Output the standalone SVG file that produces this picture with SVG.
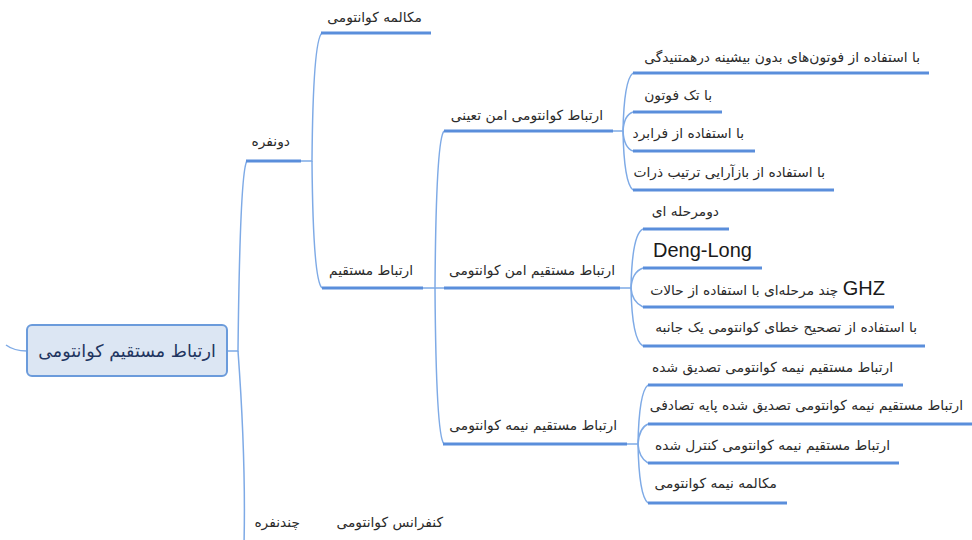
<svg xmlns="http://www.w3.org/2000/svg" width="972" height="540" viewBox="0 0 972 540">
<style>
.bg{fill:#ffffff}
.c{fill:none;stroke:#7eaae6;stroke-width:1.5}
.u{fill:none;stroke:#5a8edb;stroke-width:3}
.t{font-family:"DejaVu Sans",sans-serif;font-size:13.8px;fill:#2b2b2b;direction:rtl;text-anchor:start}
.lat{font-family:"Liberation Sans",Arial,sans-serif;font-size:20px;fill:#1a1a1a}
.root-box{fill:#dce6f3;stroke:#6b9bdb;stroke-width:2}
.root-t{font-family:"DejaVu Sans",sans-serif;font-size:17.5px;fill:#1f3560;direction:rtl;text-anchor:middle}
</style>
<rect class="bg" x="0" y="0" width="972" height="540"/>
<g id="connectors">
<path class="c" d="M6,345 Q14,351 27,351"/>
<path class="c" d="M227,351 H238 Q240,170 247,161"/>
<path class="c" d="M238,351 Q246,460 244,545"/>
<path class="c" d="M301,161 H312 Q313,40 322,33"/>
<path class="c" d="M312,161 Q313,280 322,288"/>
<path class="c" d="M423,288 H435 Q436,140 444,131"/>
<path class="c" d="M435,288 H444"/>
<path class="c" d="M435,288 Q436,436 444,444"/>
<path class="c" d="M613,131 H623 Q624,80 633,73"/>
<path class="c" d="M623,131 Q624,115 633,112"/>
<path class="c" d="M623,131 Q624,148 633,151"/>
<path class="c" d="M623,131 Q624,183 633,190"/>
<path class="c" d="M620,288 H631 Q632,234 643,229"/>
<path class="c" d="M631,288 Q632,272 643,268"/>
<path class="c" d="M631,288 Q632,302 643,307"/>
<path class="c" d="M631,288 Q632,340 643,346"/>
<path class="c" d="M627,444 H638 Q639,392 648,385"/>
<path class="c" d="M638,444 Q639,428 648,424"/>
<path class="c" d="M638,444 Q639,458 648,463"/>
<path class="c" d="M638,444 Q639,496 648,503"/>
</g>
<g id="root">
<rect class="root-box" x="27" y="325" width="200" height="51" rx="5"/>
<text class="root-t" x="127" y="357">ارتباط مستقیم کوانتومی</text>
</g>
<g id="n-donafare">
<path class="u" d="M246,161 H301"/>
<text class="t" x="290" y="146">دونفره</text>
</g>
<g id="n-chandnafare">
<text class="t" x="300" y="527">چندنفره</text>
</g>
<g id="n-conference">
<text class="t" x="443" y="527">کنفرانس کوانتومی</text>
</g>
<g id="n-mokaleme">
<path class="u" d="M321,33 H431"/>
<text class="t" x="422" y="22">مکالمه کوانتومی</text>
</g>
<g id="n-ertebat">
<path class="u" d="M322,288 H423"/>
<text class="t" x="413" y="275">ارتباط مستقیم</text>
</g>
<g id="n-amn-tayini">
<path class="u" d="M444,131 H613"/>
<text class="t" x="603" y="120">ارتباط کوانتومی امن تعینی</text>
</g>
<g id="n-amn">
<path class="u" d="M444,288 H620"/>
<text class="t" x="615" y="275">ارتباط مستقیم امن کوانتومی</text>
</g>
<g id="n-nime">
<path class="u" d="M443,444 H627"/>
<text class="t" x="617" y="430">ارتباط مستقیم نیمه کوانتومی</text>
</g>
<g id="n-a1">
<path class="u" d="M633,73 H929"/>
<text class="t" x="920" y="62">با استفاده از فوتون‌های بدون بیشینه درهمتنیدگی</text>
</g>
<g id="n-a2">
<path class="u" d="M633,112 H722"/>
<text class="t" x="712" y="100">با تک فوتون</text>
</g>
<g id="n-a3">
<path class="u" d="M633,151 H755"/>
<text class="t" x="744" y="138">با استفاده از فرابرد</text>
</g>
<g id="n-a4">
<path class="u" d="M633,190 H834"/>
<text class="t" x="825" y="177">با استفاده از بازآرایی ترتیب ذرات</text>
</g>
<g id="n-b1">
<path class="u" d="M643,229 H729"/>
<text class="t" x="719" y="216">دومرحله ای</text>
</g>
<g id="n-b2">
<path class="u" d="M643,268 H762"/>
<text class="lat" x="653" y="257">Deng-Long</text>
</g>
<g id="n-b3">
<path class="u" d="M643,307 H894"/>
<text class="t" x="885" y="295"><tspan style="font-family:'Liberation Sans',Arial,sans-serif;font-size:20px;fill:#1a1a1a">GHZ</tspan> چند مرحله‌ای با استفاده از حالات</text>
</g>
<g id="n-b4">
<path class="u" d="M643,346 H925"/>
<text class="t" x="917" y="332">با استفاده از تصحیح خطای کوانتومی یک جانبه</text>
</g>
<g id="n-c1">
<path class="u" d="M648,385 H903"/>
<text class="t" x="893" y="372">ارتباط مستقیم نیمه کوانتومی تصدیق شده</text>
</g>
<g id="n-c2">
<path class="u" d="M648,424 H972"/>
<text class="t" x="963" y="410">ارتباط مستقیم نیمه کوانتومی تصدیق شده پایه تصادفی</text>
</g>
<g id="n-c3">
<path class="u" d="M648,463 H899"/>
<text class="t" x="890" y="450">ارتباط مستقیم نیمه کوانتومی کنترل شده</text>
</g>
<g id="n-c4">
<path class="u" d="M648,503 H787"/>
<text class="t" x="777" y="488">مکالمه نیمه کوانتومی</text>
</g>
</svg>
